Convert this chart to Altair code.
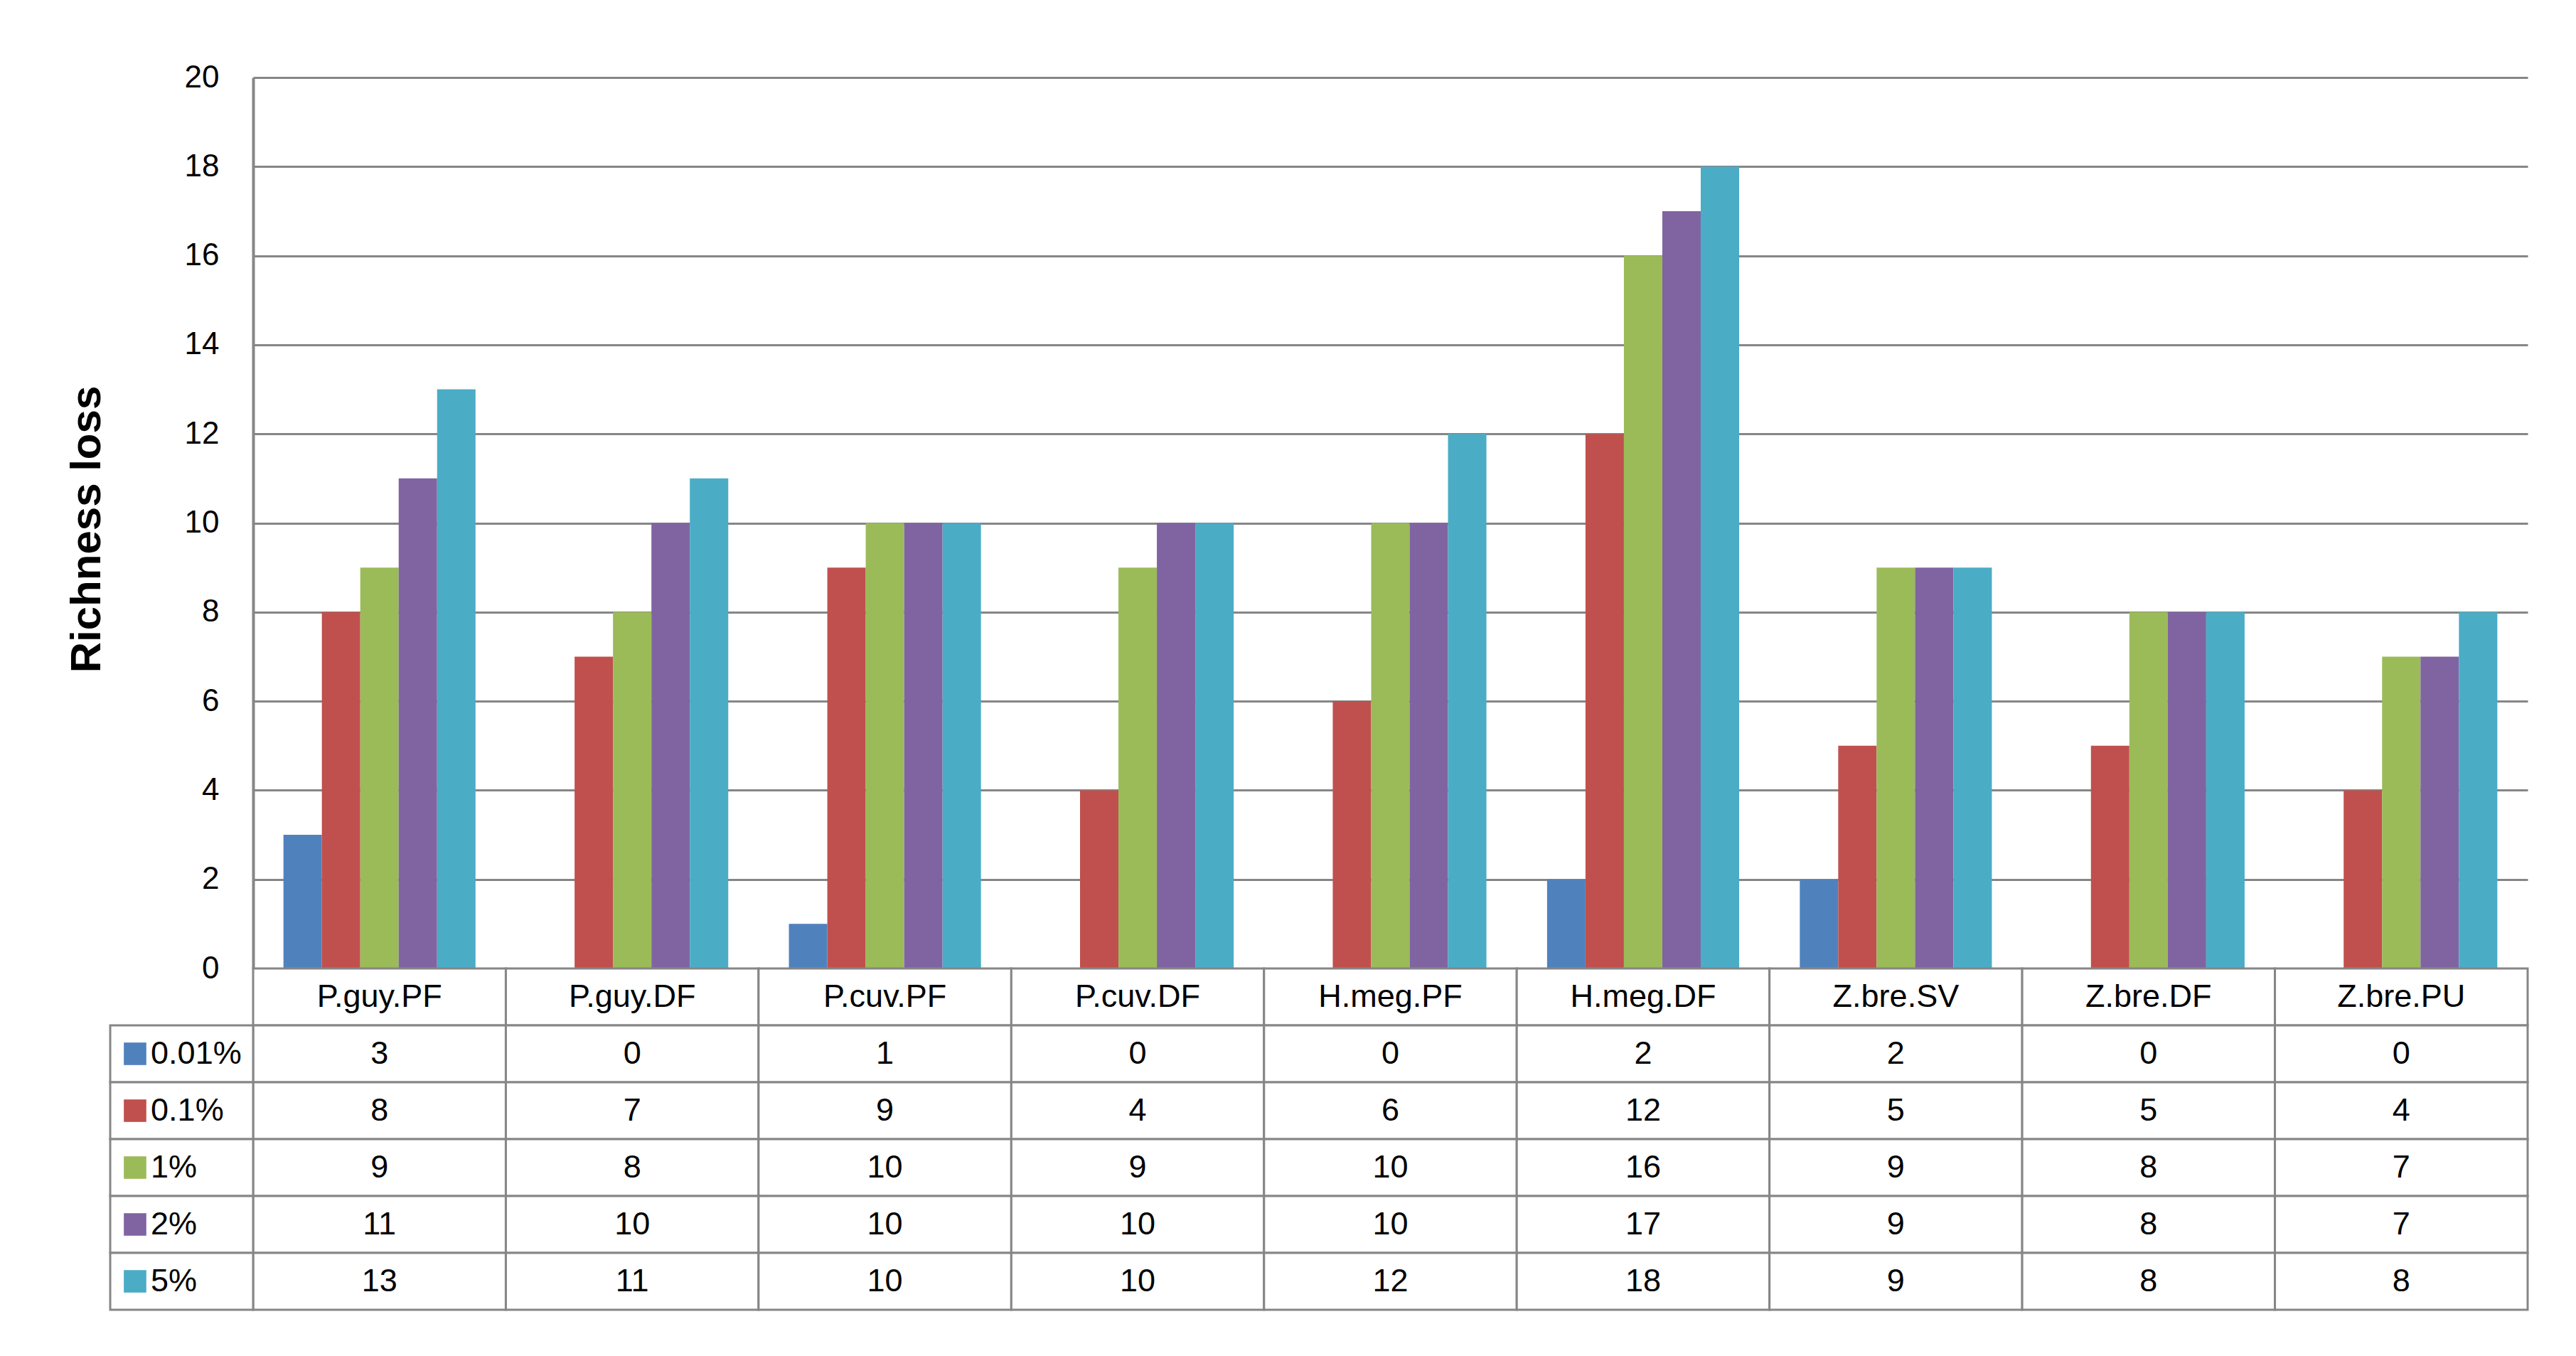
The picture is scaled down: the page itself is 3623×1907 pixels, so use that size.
import altair as alt
import pandas as pd

# ---- data ----
categories = ["P.guy.PF", "P.guy.DF", "P.cuv.PF", "P.cuv.DF", "H.meg.PF",
              "H.meg.DF", "Z.bre.SV", "Z.bre.DF", "Z.bre.PU"]
series = ["0.01%", "0.1%", "1%", "2%", "5%"]
loss_001 = [3, 0, 1, 0, 0, 2, 2, 0, 0]
loss_01 = [8, 7, 9, 4, 6, 12, 5, 5, 4]
loss_1 = [9, 8, 10, 9, 10, 16, 9, 8, 7]
loss_2 = [11, 10, 10, 10, 10, 17, 9, 8, 7]
loss_5 = [13, 11, 10, 10, 12, 18, 9, 8, 8]
colors = ["#4F81BD", "#C0504D", "#9BBB59", "#8064A2", "#4BACC6"]
y_ticks = [0, 2, 4, 6, 8, 10, 12, 14, 16, 18, 20]
y_title = "Richness loss"
header_row = "header"

# ---- tables built from the arrays ----
all_values = [loss_001, loss_01, loss_1, loss_2, loss_5]
bars_df = pd.DataFrame([
    {"category": c, "series": s, "value": v}
    for s, vals in zip(series, all_values)
    for c, v in zip(categories, vals)
])
cells_df = pd.DataFrame(
    [{"category": c, "row": header_row, "label": c} for c in categories]
    + [{"category": c, "row": s, "label": str(v)}
       for s, vals in zip(series, all_values)
       for c, v in zip(categories, vals)]
)
label_df = pd.DataFrame([{"lab": "label", "row": s} for s in series])

# ---- layout (pixels) ----
W = 3199          # bar plot / table body width
H = 1733          # bars + table height
BAR_H = 1253      # height of the bar region
ROW_RANGE = [1253, 1733]
LABEL_W = 201
GRAY = "#868686"
FONT = "Liberation Sans"
TXT = 45
rows = [header_row] + series

color_scale = alt.Scale(domain=series, range=colors)

bars = alt.Chart(bars_df).mark_bar().encode(
    x=alt.X("category:N", sort=categories, axis=None,
            scale=alt.Scale(domain=categories, paddingInner=0.24, paddingOuter=0.12)),
    xOffset=alt.XOffset("series:N", sort=series,
                        scale=alt.Scale(domain=series, paddingInner=0, paddingOuter=0)),
    y=alt.Y("value:Q",
            scale=alt.Scale(domain=[0, 20], range=[BAR_H, 0], nice=False),
            axis=alt.Axis(values=y_ticks, title=y_title, grid=True, ticks=False,
                          domain=True, domainColor=GRAY, domainWidth=4,
                          gridColor=GRAY, gridWidth=3,
                          labelFontSize=44, labelColor="black", labelPadding=48,
                          labelFont=FONT,
                          titleFontSize=60, titleFontWeight="bold", titleColor="black",
                          titleFont=FONT, titleX=-234, titleY=635, titleAngle=270,
                          titleAlign="center", titleBaseline="middle")),
    color=alt.Color("series:N", scale=color_scale, legend=None),
)

tx = alt.X("category:N", sort=categories, axis=None,
           scale=alt.Scale(domain=categories, paddingInner=0, paddingOuter=0))
ty = alt.Y("row:N", axis=None,
           scale=alt.Scale(domain=rows, range=ROW_RANGE, paddingInner=0, paddingOuter=0))

table = alt.layer(
    alt.Chart(cells_df).mark_rect(fill="white", stroke=GRAY, strokeWidth=3).encode(x=tx, y=ty),
    alt.Chart(cells_df).mark_text(fontSize=TXT, color="black", baseline="middle",
                                  font=FONT).encode(x=tx, y=ty, text="label:N"),
)

lab_scale = alt.Scale(domain=["label"], range=[-LABEL_W, 0], paddingInner=0, paddingOuter=0)
ly = alt.Y("row:N", axis=None,
           scale=alt.Scale(domain=rows, range=ROW_RANGE, paddingInner=0, paddingOuter=0))

labels = alt.layer(
    alt.Chart(label_df).mark_rect(fill="white", stroke=GRAY, strokeWidth=3).encode(
        x=alt.X("lab:N", axis=None, scale=lab_scale), y=ly),
    alt.Chart(label_df).mark_square(size=1000, opacity=1).encode(
        x=alt.X("lab:N", axis=None, scale=lab_scale, bandPosition=0.174), y=ly,
        color=alt.Color("row:N", scale=color_scale, legend=None)),
    alt.Chart(label_df).mark_text(fontSize=TXT, color="black", align="left",
                                  baseline="middle", font=FONT).encode(
        x=alt.X("lab:N", axis=None, scale=lab_scale, bandPosition=0.284), y=ly,
        text="row:N"),
)

chart = alt.layer(bars, table, labels).resolve_scale(
    x="independent", y="independent"
).properties(
    width=W, height=H,
    padding={"left": 348, "top": 101, "right": 40, "bottom": 40},
    autosize=alt.AutoSizeParams(type="none"),
).configure(font=FONT).configure_view(stroke="transparent", strokeWidth=0)

chart.save("out.html", embed_options={"renderer": "svg", "actions": False})
